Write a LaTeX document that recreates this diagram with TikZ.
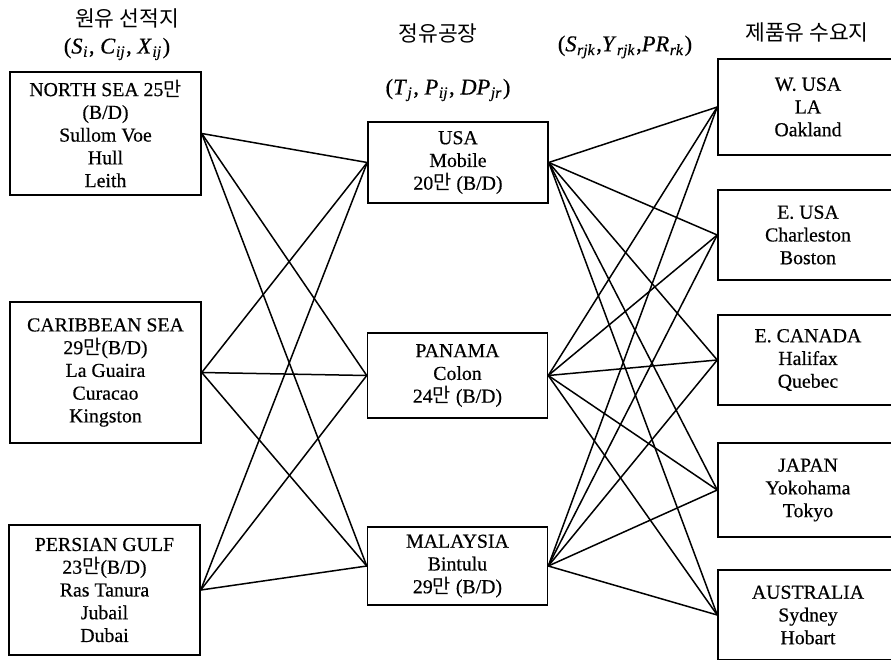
\documentclass[tikz,border=0pt]{standalone}
\usepackage{fontspec}
\setmainfont{Liberation Serif}[FakeBold=0.5]
\newfontfamily\kr{Noto Sans CJK KR}
\newcommand\vsub[2]{\textit{#1}\kern0.5pt\textsubscript{\textit{#2}}\kern1pt}
\newcommand\man{{\kr 만}}
\begin{document}
\begin{tikzpicture}[x=1pt,y=-1pt,
  box/.style={draw,line width=1.5pt,inner sep=0pt,align=center,
              font=\fontsize{19.8}{22.75}\selectfont},
  lbox/.style={box,minimum width=191pt},
  mbox/.style={box,minimum width=180pt},
  rbox/.style={box,minimum width=180pt},
  link/.style={line width=1.5pt},
  ttl/.style={font=\kr\fontsize{21.5}{24}\selectfont,inner sep=0pt},
  frm/.style={font=\fontsize{22.5}{24}\selectfont,inner sep=0pt}]
\useasboundingbox (0,0) rectangle (891,659);

% headings
\node[ttl] (h1) at (127,18) {원유 선적지};
\node[frm] (f1) at (117,49) {(\vsub{S}{i}, \vsub{C}{ij} , \vsub{X}{ij})};
\node[ttl] (h2) at (438,33) {정유공장};
\node[frm] (f2) at (448,90) {(\vsub{T}{j}, \vsub{P}{ij} , \vsub{DP}{jr})};
\node[frm] (f3) at (625,47) {(\vsub{S}{rjk},\vsub{Y}{rjk},\vsub{PR}{rk})};
\node[ttl] (h3) at (807,32) {제품유 수요지};

% sources
\node[lbox,minimum height=123pt] (ns) at (105.5,133.5)
  {NORTH SEA 25\man\\(B/D)\\Sullom Voe\\Hull\\Leith};
\node[lbox,minimum height=141pt] (cs) at (105.5,372.5)
  {CARIBBEAN SEA\\29\man(B/D)\\La Guaira\\Curacao\\Kingston};
\node[lbox,minimum height=130pt] (pg) at (104.5,590)
  {PERSIAN GULF\\23\man(B/D)\\Ras Tanura\\Jubail\\Dubai};

% refineries
\node[mbox,minimum height=81pt] (usa) at (458,162.5)
  {USA\\Mobile\\20\man{} (B/D)};
\node[mbox,minimum height=85pt] (pan) at (457.5,375.5)
  {PANAMA\\Colon\\24\man{} (B/D)};
\node[mbox,minimum height=78pt] (mal) at (457.5,566)
  {MALAYSIA\\Bintulu\\29\man{} (B/D)};

% markets
\node[rbox,minimum height=96pt] (wus) at (808,107) {W. USA\\LA\\Oakland};
\node[rbox,minimum height=90pt] (eus) at (808,235) {E. USA\\Charleston\\Boston};
\node[rbox,minimum height=90pt] (eca) at (808,360) {E. CANADA\\Halifax\\Quebec};
\node[rbox,minimum height=94pt] (jap) at (808,490) {JAPAN\\Yokohama\\Tokyo};
\node[rbox,minimum height=90pt] (aus) at (808,615) {AUSTRALIA\\Sydney\\Hobart};

% links
\foreach \s in {ns,cs,pg}
  \foreach \r in {usa,pan,mal}
    \draw[link] (\s.east) -- (\r.west);
\foreach \r in {usa,pan,mal}
  \foreach \m in {wus,eus,eca,jap,aus}
    \draw[link] (\r.east) -- (\m.west);
\end{tikzpicture}
\end{document}
